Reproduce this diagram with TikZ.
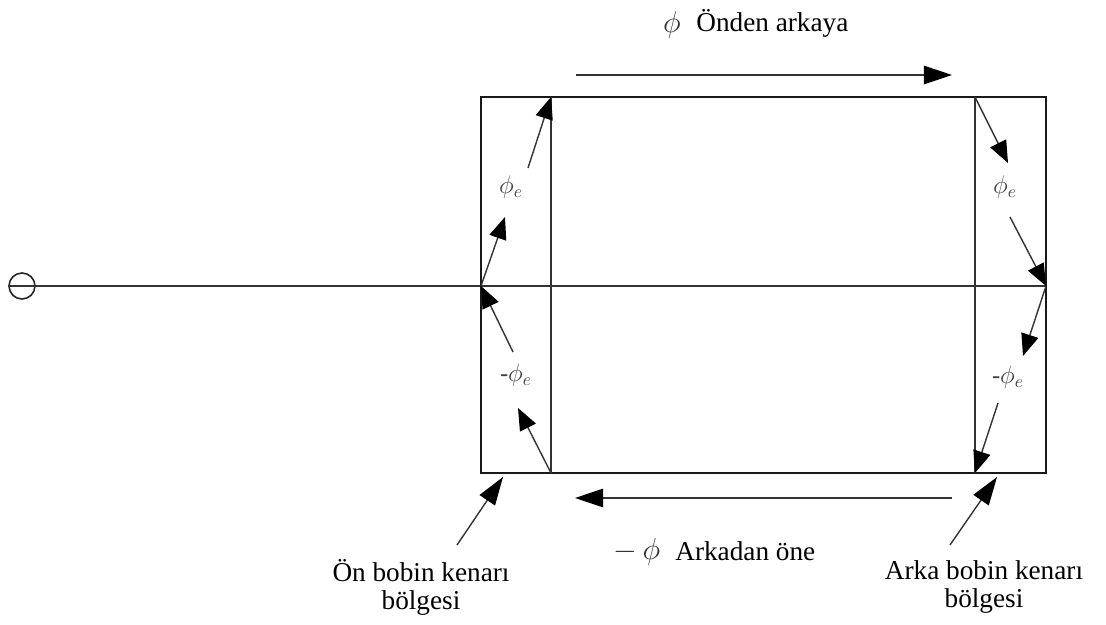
\documentclass[tikz,border=0pt]{standalone}
\usepackage{fontspec}
\setmainfont{Liberation Serif}
\usetikzlibrary{arrows.meta}
\begin{document}
\begin{tikzpicture}[x=0.02cm,y=-0.02cm,
  ln/.style={line width=0.8pt, black!80},
  frame/.style={line width=1.1pt, black!90},
  sarr/.style={ln, -{Triangle[length=12.5pt,width=10pt,color=black,fill=black]}},
  barr/.style={ln, -{Triangle[length=16pt,width=10.5pt,color=black,fill=black]}},
  lbl/.style={font=\fontsize{15.5}{16}\selectfont, align=center, inner sep=0pt},
  philbl/.style={font=\fontsize{14}{16}\selectfont, text=black!75, inner sep=0pt},
  bigphi/.style={font=\fontsize{16}{18}\selectfont, text=black!80, inner sep=0pt}]
\useasboundingbox (0,0) rectangle (1106,625);

% frame coordinates
\coordinate (TL) at (481,97);
\coordinate (TR) at (1046,97);
\coordinate (BL) at (481,473);
\coordinate (BR) at (1046,473);
\coordinate (IL1) at (551,97);
\coordinate (IL2) at (551,473);
\coordinate (IR1) at (975,97);
\coordinate (IR2) at (975,473);
\coordinate (ML) at (481,286);
\coordinate (MR) at (1046,286);

% axis with small circle
\node[circle, draw, line width=0.9pt, black!85, minimum size=0.52cm, inner sep=0pt] (o) at (22,286) {};
\draw[ln] (o.west) -- (MR);

% frame
\draw[frame] (TL) -- (TR) -- (BR) -- (BL) -- cycle;
\draw[ln] (IL1) -- (IL2);
\draw[ln] (IR1) -- (IR2);

% left top arrows
\coordinate (a1e) at (505,217);
\coordinate (a2s) at (528,168);
\draw[sarr] (ML) -- (a1e);
\draw[sarr] (a2s) -- (IL1);
\node[philbl] (p1) at (511,187) {$\phi_e$};

% left bottom arrows
\coordinate (b1s) at (513,352);
\coordinate (b2e) at (518,408);
\draw[sarr] (b1s) -- (ML);
\draw[sarr] (IL2) -- (b2e);
\node[philbl] (p2) at (516,375) {-$\phi_e$};

% right top arrows
\coordinate (c1e) at (1008,163);
\coordinate (c2s) at (1010,217);
\draw[sarr] (IR1) -- (c1e);
\draw[sarr] (c2s) -- (MR);
\node[philbl] (p3) at (1005,187) {$\phi_e$};

% right bottom arrows
\coordinate (d1e) at (1023,356);
\coordinate (d2s) at (998,403);
\draw[sarr] (MR) -- (d1e);
\draw[sarr] (d2s) -- (IR2);
\node[philbl] (p4) at (1008,377) {-$\phi_e$};

% top flow arrow
\coordinate (t1) at (576,75);
\coordinate (t2) at (952,75);
\draw[barr] (t1) -- (t2);
\node[bigphi] (tphi) at (672,25) {$\phi$};
\node[lbl, anchor=base west] (ttxt) at (696,32) {Önden arkaya};

% bottom flow arrow
\coordinate (u1) at (952,498);
\coordinate (u2) at (575,498);
\draw[barr] (u1) -- (u2);
\node[bigphi] (bphi) at (637,552) {$-\,\phi$};
\node[lbl, anchor=base west] (btxt) at (675,560) {Arkadan öne};

% region labels
\node[lbl] (ll) at (421,587) {Ön bobin kenarı\\bölgesi};
\node[lbl] (rl) at (984,587) {Arka bobin kenarı\\bölgesi};
\coordinate (lls) at (457,545);
\coordinate (lle) at (503,477);
\coordinate (rls) at (950,545);
\coordinate (rle) at (997,477);
\draw[barr] (lls) -- (lle);
\draw[barr] (rls) -- (rle);
\end{tikzpicture}
\end{document}
